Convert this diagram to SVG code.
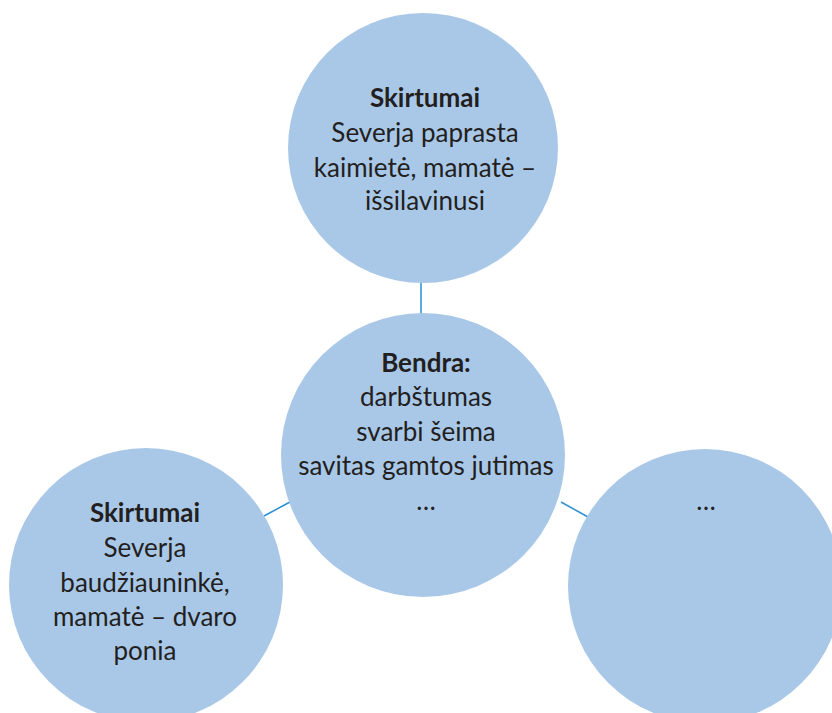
<svg xmlns="http://www.w3.org/2000/svg" width="832" height="713" viewBox="0 0 832 713">
<style>
.node{fill:#A9C8E8;}
.conn{stroke:#2A8FD4;stroke-width:1.5;fill:none;}
text{font-family:Lato,"Open Sans",sans-serif;font-size:26px;fill:#231F20;text-anchor:middle;}
.b{font-weight:bold;}
</style>
<rect width="832" height="713" fill="#FFFFFF"/>
<g id="connectors">
<line class="conn" x1="421" y1="282" x2="421" y2="314"/>
<line class="conn" x1="264" y1="516" x2="290" y2="502"/>
<line class="conn" x1="561" y1="502" x2="588" y2="517"/>
</g>
<g id="top">
<circle class="node" cx="423" cy="148" r="135"/>
<text x="425" y="107" class="b">Skirtumai</text>
<text x="425" y="142">Severja paprasta</text>
<text x="425" y="177">kaimietė, mamatė –</text>
<text x="425" y="210">išsilavinusi</text>
</g>
<g id="center">
<circle class="node" cx="423" cy="455" r="142"/>
<text x="426" y="372" class="b">Bendra:</text>
<text x="426" y="406">darbštumas</text>
<text x="426" y="441">svarbi šeima</text>
<text x="426" y="475">savitas gamtos jutimas</text>
<text x="426" y="510">…</text>
</g>
<g id="left">
<circle class="node" cx="146" cy="585" r="137"/>
<text x="145" y="522" class="b">Skirtumai</text>
<text x="145" y="557">Severja</text>
<text x="145" y="592">baudžiauninkė,</text>
<text x="145" y="626">mamatė – dvaro</text>
<text x="145" y="660">ponia</text>
</g>
<g id="right">
<circle class="node" cx="705" cy="586" r="137"/>
<text x="706" y="510">…</text>
</g>
</svg>
